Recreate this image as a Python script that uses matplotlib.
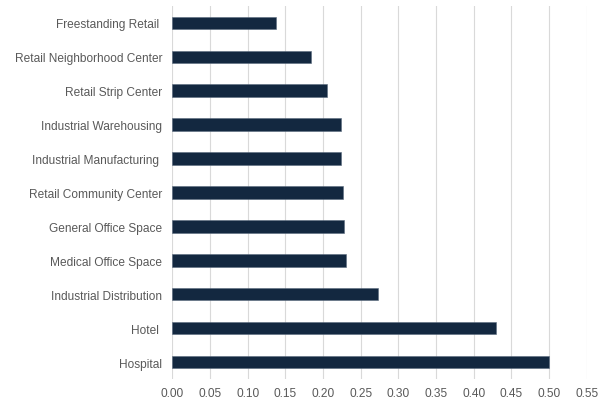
import matplotlib.pyplot as plt

# Property types, top to bottom as shown
categories = ['Freestanding Retail ', 'Retail Neighborhood Center', 'Retail Strip Center',
              'Industrial Warehousing', 'Industrial Manufacturing ', 'Retail Community Center',
              'General Office Space', 'Medical Office Space', 'Industrial Distribution',
              'Hotel ', 'Hospital']
values = [0.138, 0.184, 0.205, 0.224, 0.2245, 0.226, 0.228, 0.231, 0.2725, 0.429, 0.4995]
xticks = [0.00, 0.05, 0.10, 0.15, 0.20, 0.25, 0.30, 0.35, 0.40, 0.45, 0.50, 0.55]

plt.rcParams['font.family'] = ['Liberation Sans', 'DejaVu Sans']

fig = plt.figure(figsize=(6, 4.02), dpi=100)
ax = fig.add_axes([0.287, 0.0547, 0.691, 0.928])

ypos = list(range(len(categories)))
ax.barh(ypos, values, height=0.37, color='#132840', edgecolor='#5a6a7e', linewidth=0.4, zorder=3)

ax.set_yticks(ypos)
ax.set_yticklabels(categories)
ax.set_ylim(len(categories) - 0.5, -0.5)

ax.set_xlim(0, 0.55)
ax.set_xticks(xticks)
ax.set_xticklabels([f'{t:.2f}' for t in xticks])

ax.grid(axis='x', color='#d9d9d9', linewidth=0.8, zorder=0)
for s in ax.spines.values():
    s.set_visible(False)
ax.tick_params(axis='both', length=0, labelsize=8.6, colors='#595959')
ax.tick_params(axis='y', pad=7)
ax.tick_params(axis='x', pad=6)

fig.savefig('out.png', dpi=100)
